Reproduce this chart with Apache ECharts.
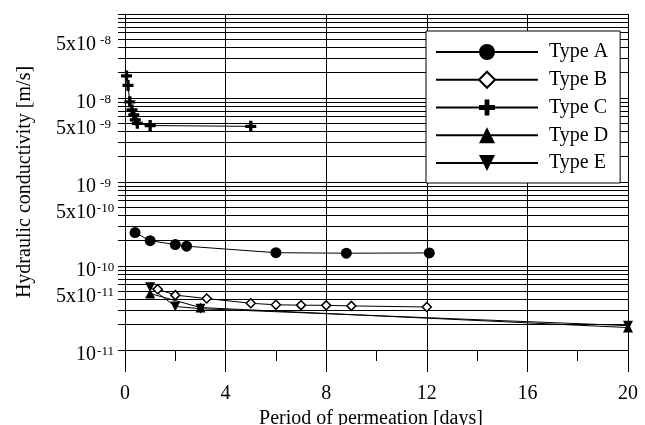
<!DOCTYPE html>
<html>
<head>
<meta charset="utf-8">
<script src="https://cdn.jsdelivr.net/npm/echarts@6/dist/echarts.min.js"></script>
<style>html,body{margin:0;padding:0;background:#fff}#c{width:645px;height:425px}</style>
</head>
<body>
<div id="c"></div>
<script>
// ---- data (days, m/s) ----
var typeA_x = [0.4, 1, 2, 2.45, 6, 8.8, 12.1];
var typeA_y = [2.5e-10, 2.0e-10, 1.8e-10, 1.72e-10, 1.44e-10, 1.42e-10, 1.43e-10];
var typeB_x = [1.3, 2, 3.25, 5, 6, 7, 8, 9, 12];
var typeB_y = [5.3e-11, 4.5e-11, 4.1e-11, 3.6e-11, 3.45e-11, 3.42e-11, 3.4e-11, 3.35e-11, 3.25e-11];
var typeC_x = [0.06, 0.12, 0.19, 0.28, 0.35, 0.41, 0.49, 1, 5];
var typeC_y = [1.83e-8, 1.41e-8, 9.0e-9, 7.2e-9, 6.3e-9, 5.5e-9, 5.0e-9, 4.7e-9, 4.6e-9];
var typeD_x = [1, 3, 20];
var typeD_y = [4.7e-11, 3.2e-11, 1.85e-11];
var typeE_x = [1, 2, 3, 20];
var typeE_y = [5.6e-11, 3.3e-11, 3.1e-11, 1.95e-11];
var seriesNames = ['Type A', 'Type B', 'Type C', 'Type D', 'Type E'];
var yLabelValues = [1e-11, 5e-11, 1e-10, 5e-10, 1e-9, 5e-9, 1e-8, 5e-8];
var xTickLabels = ['0', '4', '8', '12', '16', '20'];

var gridValues = [];
for (var e = -11; e <= -8; e++) {
  for (var k = 1; k <= 9; k++) gridValues.push(k * Math.pow(10, e));
}
gridValues.push(1e-7);

function pairs(xs, ys) { return xs.map(function (x, i) { return [x, ys[i]]; }); }

var FONT = 'Liberation Serif';
var plusPath = 'path://M3.5,0H6.5V3.5H10V6.5H6.5V10H3.5V6.5H0V3.5H3.5Z';

function mkSeries(name, data, symbol, size, extra) {
  var s = {
    name: name, type: 'line', data: data,
    symbol: symbol, symbolSize: size,
    lineStyle: { color: '#000', width: 1 },
    itemStyle: { color: '#000' },
    z: 3
  };
  for (var key in extra) s[key] = extra[key];
  return s;
}

var chart = echarts.init(document.getElementById('c'), null, { renderer: 'canvas' });
chart.setOption({
  animation: false,
  backgroundColor: '#fff',
  grid: { left: 125, right: 17, top: 14, bottom: 75, containLabel: false, outerBoundsMode: 'none' },
  legend: {
    orient: 'vertical',
    left: 426, top: 31,
    data: seriesNames,
    backgroundColor: '#fff',
    borderColor: '#000', borderWidth: 1,
    padding: [11, 12, 10, 9],
    itemWidth: 102, itemHeight: 20, itemGap: 7.75,
    textStyle: { fontFamily: FONT, fontSize: 20, color: '#000', padding: [0, 0, 0, 6] }
  },
  xAxis: {
    type: 'value', min: 0, max: 20, interval: 4,
    name: 'Period of permeation [days]',
    nameLocation: 'middle', nameGap: 51,
    nameTextStyle: { fontFamily: FONT, fontSize: 20, color: '#000', padding: [0, 11, 0, 0] },
    axisLine: { show: true, lineStyle: { color: '#000', width: 1 } },
    axisTick: { show: true, length: 22, lineStyle: { color: '#000' } },
    minorTick: { show: true, splitNumber: 2, length: 11, lineStyle: { color: '#000' } },
    splitLine: { show: true, lineStyle: { color: '#000', width: 1 } },
    axisLabel: {
      margin: 34, fontFamily: FONT, fontSize: 20, color: '#000',
      formatter: function (v) { var i = Math.round(v / 4); return xTickLabels[i] !== undefined ? xTickLabels[i] : ''; }
    }
  },
  yAxis: {
    type: 'log', logBase: 10, min: 1e-11, max: 1e-7,
    name: 'Hydraulic conductivity [m/s]',
    nameLocation: 'middle', nameGap: 90,
    nameTextStyle: { fontFamily: FONT, fontSize: 20, color: '#000' },
    axisLine: { show: true, lineStyle: { color: '#000', width: 1 } },
    axisTick: { show: true, length: 7, customValues: gridValues, lineStyle: { color: '#000' } },
    splitLine: { show: true, lineStyle: { color: '#000', width: 1 } },
    minorTick: { show: false },
    axisLabel: {
      customValues: yLabelValues,
      margin: 10,
      padding: [10, 0, 0, 0],
      formatter: function (v) {
        var ex = Math.floor(Math.log10(v) + 1e-6);
        var m = Math.round(v / Math.pow(10, ex));
        return (m === 1 ? '{b|10}' : '{b|' + m + 'x10}') + '{s|' + ex + '}';
      },
      rich: {
        b: { fontFamily: FONT, fontSize: 20, color: '#000', lineHeight: 20 },
        s: { fontFamily: FONT, fontSize: 13, color: '#000', lineHeight: 13, verticalAlign: 'top', width: 19, align: 'left' }
      }
    }
  },
  series: [
    mkSeries('Type A', pairs(typeA_x, typeA_y), 'circle', 11, {}),
    mkSeries('Type B', pairs(typeB_x, typeB_y), 'diamond', 9, { itemStyle: { color: '#fff', borderColor: '#000', borderWidth: 1.5 } }),
    mkSeries('Type C', pairs(typeC_x, typeC_y), plusPath, 11, {}),
    mkSeries('Type D', pairs(typeD_x, typeD_y), 'triangle', 10, {}),
    mkSeries('Type E', pairs(typeE_x, typeE_y), 'triangle', 10, { symbolRotate: 180 })
  ]
});
</script>
</body>
</html>
